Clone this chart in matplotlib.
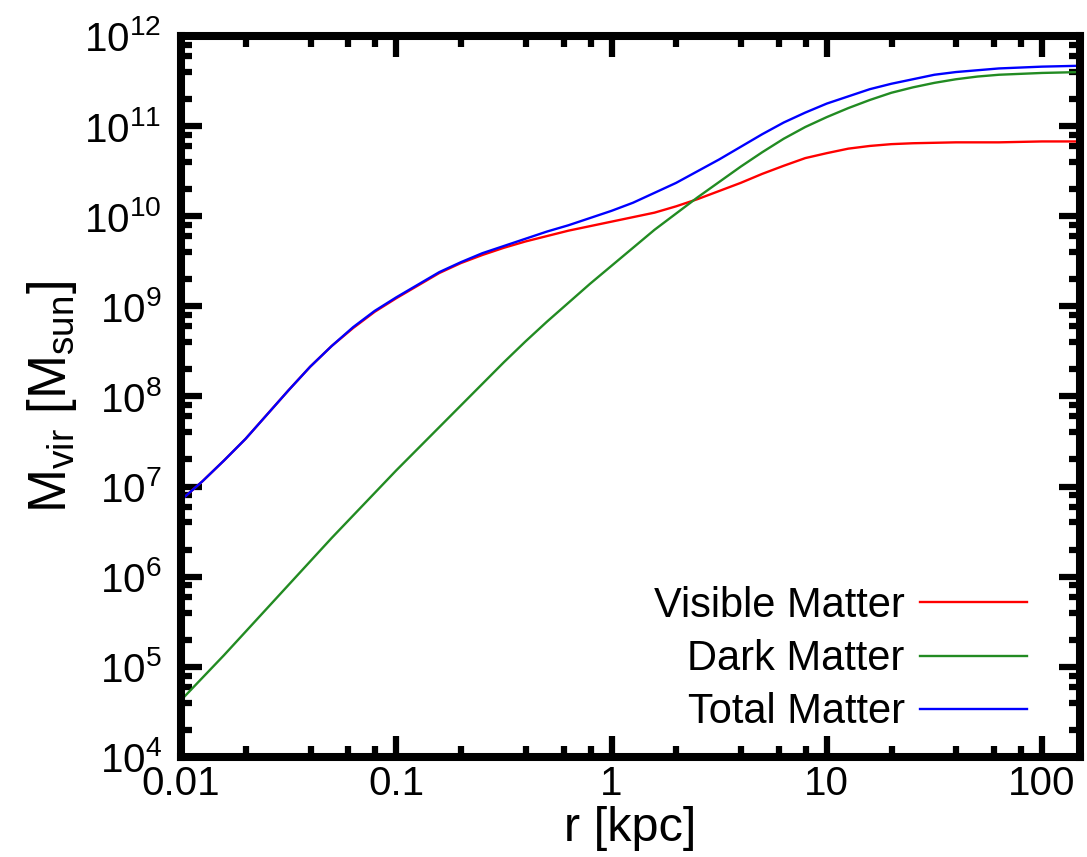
import numpy as np
import matplotlib
matplotlib.use("Agg")
import matplotlib.pyplot as plt
from matplotlib.ticker import LogLocator, FixedLocator, NullFormatter, FuncFormatter

plt.rcParams['font.family'] = ['Liberation Sans', 'DejaVu Sans']
plt.rcParams['mathtext.fontset'] = 'custom'
plt.rcParams['mathtext.rm'] = 'Liberation Sans'
plt.rcParams['mathtext.it'] = 'Liberation Sans:italic'

log_r = [-2.0, -1.9, -1.8, -1.7, -1.6, -1.5, -1.4, -1.3, -1.2, -1.1,
         -1.0, -0.9, -0.8, -0.7, -0.6, -0.5, -0.4, -0.3, -0.2, -0.1,
         0.0, 0.1, 0.2, 0.3, 0.4, 0.5, 0.6, 0.7, 0.8, 0.9,
         1.0, 1.1, 1.2, 1.3, 1.4, 1.5, 1.6, 1.7, 1.8, 1.9,
         2.0, 2.18]

# log10 M [Msun]
log_visible = [6.85, 7.06, 7.29, 7.53, 7.80, 8.07, 8.33, 8.56, 8.76, 8.94,
               9.09, 9.23, 9.37, 9.48, 9.57, 9.65, 9.72, 9.78, 9.84, 9.89,
               9.94, 9.99, 10.04, 10.11, 10.19, 10.28, 10.37, 10.47, 10.56, 10.645,
               10.70, 10.75, 10.78, 10.80, 10.81, 10.815, 10.82, 10.82, 10.82, 10.825,
               10.83, 10.83]
log_dark = [4.63, 4.88, 5.13, 5.39, 5.65, 5.91, 6.17, 6.43, 6.68, 6.93,
            7.18, 7.42, 7.66, 7.90, 8.14, 8.38, 8.61, 8.83, 9.04, 9.25,
            9.45, 9.65, 9.85, 10.03, 10.21, 10.38, 10.55, 10.71, 10.86, 10.99,
            11.10, 11.20, 11.29, 11.37, 11.43, 11.48, 11.52, 11.55, 11.57, 11.58,
            11.59, 11.60]
log_total = [6.85, 7.06, 7.29, 7.53, 7.80, 8.07, 8.33, 8.56, 8.77, 8.95,
             9.10, 9.24, 9.38, 9.49, 9.59, 9.67, 9.75, 9.83, 9.90, 9.98,
             10.06, 10.15, 10.26, 10.37, 10.50, 10.63, 10.77, 10.91, 11.04, 11.15,
             11.25, 11.33, 11.41, 11.47, 11.52, 11.57, 11.60, 11.62, 11.64, 11.65,
             11.66, 11.67]

labels = ['Visible Matter', 'Dark Matter', 'Total Matter']
colors = ['#ff0000', '#228b22', '#0000ff']

r = 10 ** np.array(log_r)

fig = plt.figure(figsize=(10.87, 8.57), dpi=100)
ax = fig.add_axes([0.1665, 0.1167, 0.8270, 0.8413])

for ys, lab, c in zip([log_visible, log_dark, log_total], labels, colors):
    ax.plot(r, 10 ** np.array(ys), color=c, lw=1.7, label=lab)

ax.set_xscale('log')
ax.set_yscale('log')
ax.set_xlim(0.01, 150)
ax.set_ylim(1e4, 1e12)

ax.xaxis.set_major_locator(FixedLocator([0.01, 0.1, 1, 10, 100]))
ax.xaxis.set_minor_locator(LogLocator(base=10, subs=[2, 4, 6, 8], numticks=20))
ax.yaxis.set_major_locator(FixedLocator([10.0 ** k for k in range(4, 13)]))
ax.yaxis.set_minor_locator(LogLocator(base=10, subs=[2, 4, 6, 8], numticks=20))
ax.xaxis.set_minor_formatter(NullFormatter())
ax.yaxis.set_minor_formatter(NullFormatter())
ax.xaxis.set_major_formatter(FuncFormatter(lambda v, p: '%g' % v))
ax.yaxis.set_major_formatter(FuncFormatter(
    lambda v, p: r'$\mathregular{10^{%d}}$' % int(round(np.log10(v)))))

for s in ax.spines.values():
    s.set_linewidth(5.8)
ax.tick_params(which='both', direction='in', top=True, right=True,
               labelsize=29, width=4.5)
ax.tick_params(which='major', length=15)
ax.tick_params(which='minor', length=8)
ax.tick_params(axis='y', which='major', pad=14)
ax.tick_params(axis='x', which='major', pad=6)

ax.set_xlabel('r [kpc]', fontsize=35, labelpad=2)
ax.set_ylabel(r'$\mathregular{M_{vir}\ [M_{sun}]}$', fontsize=38, labelpad=4)

ax.legend(loc='lower right', bbox_to_anchor=(0.941, 0.034), frameon=False,
          fontsize=30, markerfirst=False, handlelength=2.57,
          handletextpad=0.36, labelspacing=0.32, borderpad=0, borderaxespad=0)

fig.savefig('out.png', dpi=100)
